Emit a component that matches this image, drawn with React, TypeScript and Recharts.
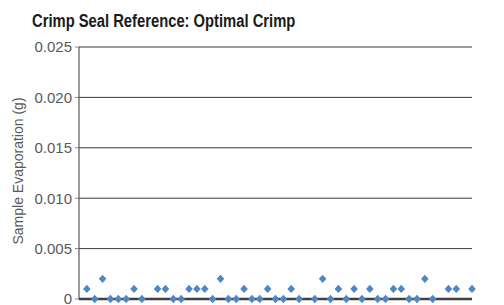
import {
  CartesianGrid,
  Scatter,
  ScatterChart,
  XAxis,
  YAxis,
} from "recharts";

// sample number along the x axis (1..50), null = no reading plotted
const sampleIds = [
  1, 2, 3, 4, 5, 6, 7, 8, 9, 10, 11, 12, 13, 14, 15, 16, 17, 18, 19, 20, 21,
  22, 23, 24, 25, 26, 27, 28, 29, 30, 31, 32, 33, 34, 35, 36, 37, 38, 39, 40,
  41, 42, 43, 44, 45, 46, 47, 48, 49, 50,
];
const evaporation: (number | null)[] = [
  0.001, 0, 0.002, 0, 0, 0, 0.001, 0, null, 0.001, 0.001, 0, 0, 0.001, 0.001,
  0.001, 0, 0.002, 0, 0, 0.001, 0, 0, 0.001, 0, 0, 0.001, 0, null, 0, 0.002, 0,
  0.001, 0, 0.001, 0, 0.001, 0, 0, 0.001, 0.001, 0, 0, 0.002, 0, null, 0.001,
  0.001, null, 0.001,
];
const xTicks = [0, 5, 10, 15, 20, 25, 30, 35, 40, 45, 50];
const yTicks = [0, 0.005, 0.01, 0.015, 0.02, 0.025];

const title = "Crimp Seal Reference: Optimal Crimp";
const yTitle = "Sample Evaporation (g)";

const data = sampleIds
  .map((id, i) => ({ sample: id, grams: evaporation[i] }))
  .filter((d) => d.grams !== null);

const blue = "#4F86C6";

function Diamond(props: { cx?: number; cy?: number }) {
  const { cx, cy } = props;
  if (cx === undefined || cy === undefined) return null;
  return (
    <path
      d={`M${cx},${cy - 4.2}L${cx + 3.8},${cy}L${cx},${cy + 4.2}L${cx - 3.8},${cy}Z`}
      fill={blue}
    />
  );
}

function YTitle(props: { viewBox?: { x: number; y: number; width: number; height: number } }) {
  const vb = props.viewBox;
  if (!vb) return null;
  const x = 23;
  const y = vb.y + vb.height / 2 - 2;
  return (
    <text
      x={x}
      y={y}
      transform={`rotate(-90, ${x}, ${y})`}
      textAnchor="middle"
      fill="#595959"
      fontSize={14}
      fontFamily="'Liberation Sans', Arial, sans-serif"
    >
      {yTitle}
    </text>
  );
}

export default function App() {
  return (
    <div
      style={{
        position: "absolute",
        left: 0,
        top: 0,
        width: 504,
        height: 305,
        background: "#fff",
        overflow: "hidden",
      }}
    >
      <div
        style={{
          position: "absolute",
          left: 32,
          top: 12,
          fontFamily: "'Liberation Sans', Arial, sans-serif",
          fontWeight: 700,
          fontSize: 18,
          lineHeight: "18px",
          color: "#1a1a1a",
          whiteSpace: "nowrap",
          transform: "scaleX(0.82)",
          transformOrigin: "left top",
        }}
      >
        {title}
      </div>
      <ScatterChart
        width={504}
        height={305}
        margin={{ top: 47, right: 32, bottom: 0, left: 0 }}
      >
        <CartesianGrid horizontal vertical={false} stroke="#3a3a3a" />
        <XAxis
          type="number"
          dataKey="sample"
          domain={[0, 50]}
          ticks={xTicks}
          interval={0}
          tick={false}
          height={6}
          tickSize={3}
          axisLine={{ stroke: "#404040", strokeWidth: 2.5 }}
          tickLine={{ stroke: "#404040" }}
        />
        <YAxis
          type="number"
          dataKey="grams"
          domain={[0, 0.025]}
          ticks={yTicks}
          interval={0}
          width={79}
          tickSize={4}
          tickMargin={3}
          axisLine={{ stroke: "#3a3a3a" }}
          tickLine={{ stroke: "#868686" }}
          tick={{
            fill: "#595959",
            fontSize: 15,
            fontFamily: "'Liberation Sans', Arial, sans-serif",
          }}
          tickFormatter={(v: number) => (v === 0 ? "0" : v.toFixed(3))}
          label={<YTitle />}
        />
        <Scatter
          data={data}
          shape={<Diamond />}
          isAnimationActive={false}
        />
      </ScatterChart>
    </div>
  );
}
